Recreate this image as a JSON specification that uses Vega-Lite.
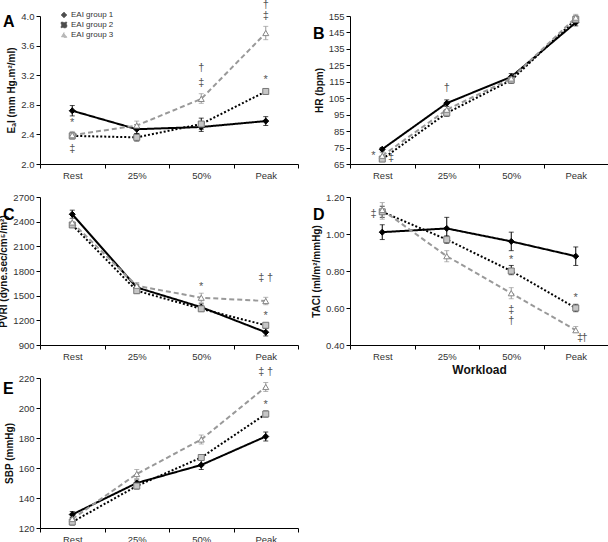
{
  "$schema": "https://vega.github.io/schema/vega-lite/v6.json",
  "padding": {"left": -2, "top": -2, "right": 1, "bottom": 0},
  "columns": 2,
  "bounds": "flush",
  "spacing": {"row": 33, "column": 52},
  "config": {
    "font": "Liberation Sans",
    "view": {"stroke": null},
    "axis": {
      "grid": false,
      "domainColor": "#000000",
      "domainWidth": 1,
      "tickColor": "#000000",
      "tickSize": 4,
      "labelOverlap": false,
      "labelFont": "Liberation Sans",
      "labelFontSize": 9.5,
      "labelColor": "#333333",
      "labelPadding": 2,
      "titleFont": "Liberation Sans",
      "titleFontSize": 10,
      "titleFontWeight": "bold",
      "titleColor": "#111111"
    }
  },
  "datasets": {
    "series": [
      {"panel": "A", "workload": "Rest", "group": "EAI group 1", "value": 2.72, "lo": 2.65, "hi": 2.79},
      {"panel": "A", "workload": "25%", "group": "EAI group 1", "value": 2.47, "lo": 2.41, "hi": 2.53},
      {"panel": "A", "workload": "50%", "group": "EAI group 1", "value": 2.50, "lo": 2.44, "hi": 2.56},
      {"panel": "A", "workload": "Peak", "group": "EAI group 1", "value": 2.58, "lo": 2.52, "hi": 2.64},
      {"panel": "A", "workload": "Rest", "group": "EAI group 2", "value": 2.38, "lo": 2.34, "hi": 2.42},
      {"panel": "A", "workload": "25%", "group": "EAI group 2", "value": 2.36, "lo": 2.31, "hi": 2.41},
      {"panel": "A", "workload": "50%", "group": "EAI group 2", "value": 2.54, "lo": 2.47, "hi": 2.62},
      {"panel": "A", "workload": "Peak", "group": "EAI group 2", "value": 2.98, "lo": 2.96, "hi": 3.00},
      {"panel": "A", "workload": "Rest", "group": "EAI group 3", "value": 2.39, "lo": 2.34, "hi": 2.44},
      {"panel": "A", "workload": "25%", "group": "EAI group 3", "value": 2.52, "lo": 2.46, "hi": 2.58},
      {"panel": "A", "workload": "50%", "group": "EAI group 3", "value": 2.88, "lo": 2.82, "hi": 2.95},
      {"panel": "A", "workload": "Peak", "group": "EAI group 3", "value": 3.77, "lo": 3.68, "hi": 3.86},
      {"panel": "B", "workload": "Rest", "group": "EAI group 1", "value": 74, "lo": 73, "hi": 75},
      {"panel": "B", "workload": "25%", "group": "EAI group 1", "value": 102, "lo": 100, "hi": 104},
      {"panel": "B", "workload": "50%", "group": "EAI group 1", "value": 118, "lo": 116, "hi": 120},
      {"panel": "B", "workload": "Peak", "group": "EAI group 1", "value": 151, "lo": 149, "hi": 153},
      {"panel": "B", "workload": "Rest", "group": "EAI group 2", "value": 68, "lo": 67, "hi": 69},
      {"panel": "B", "workload": "25%", "group": "EAI group 2", "value": 96, "lo": 94, "hi": 98},
      {"panel": "B", "workload": "50%", "group": "EAI group 2", "value": 116, "lo": 114, "hi": 118},
      {"panel": "B", "workload": "Peak", "group": "EAI group 2", "value": 153, "lo": 151, "hi": 155},
      {"panel": "B", "workload": "Rest", "group": "EAI group 3", "value": 70, "lo": 68, "hi": 72},
      {"panel": "B", "workload": "25%", "group": "EAI group 3", "value": 98, "lo": 95, "hi": 101},
      {"panel": "B", "workload": "50%", "group": "EAI group 3", "value": 117, "lo": 115, "hi": 119},
      {"panel": "B", "workload": "Peak", "group": "EAI group 3", "value": 154, "lo": 152, "hi": 156},
      {"panel": "C", "workload": "Rest", "group": "EAI group 1", "value": 2490, "lo": 2440, "hi": 2540},
      {"panel": "C", "workload": "25%", "group": "EAI group 1", "value": 1600, "lo": 1560, "hi": 1640},
      {"panel": "C", "workload": "50%", "group": "EAI group 1", "value": 1360, "lo": 1320, "hi": 1400},
      {"panel": "C", "workload": "Peak", "group": "EAI group 1", "value": 1055, "lo": 1010, "hi": 1100},
      {"panel": "C", "workload": "Rest", "group": "EAI group 2", "value": 2360, "lo": 2330, "hi": 2390},
      {"panel": "C", "workload": "25%", "group": "EAI group 2", "value": 1560, "lo": 1530, "hi": 1590},
      {"panel": "C", "workload": "50%", "group": "EAI group 2", "value": 1340, "lo": 1310, "hi": 1370},
      {"panel": "C", "workload": "Peak", "group": "EAI group 2", "value": 1140, "lo": 1120, "hi": 1160},
      {"panel": "C", "workload": "Rest", "group": "EAI group 3", "value": 2390, "lo": 2340, "hi": 2440},
      {"panel": "C", "workload": "25%", "group": "EAI group 3", "value": 1620, "lo": 1580, "hi": 1660},
      {"panel": "C", "workload": "50%", "group": "EAI group 3", "value": 1475, "lo": 1420, "hi": 1530},
      {"panel": "C", "workload": "Peak", "group": "EAI group 3", "value": 1435, "lo": 1390, "hi": 1480},
      {"panel": "D", "workload": "Rest", "group": "EAI group 1", "value": 1.01, "lo": 0.97, "hi": 1.05},
      {"panel": "D", "workload": "25%", "group": "EAI group 1", "value": 1.03, "lo": 0.97, "hi": 1.09},
      {"panel": "D", "workload": "50%", "group": "EAI group 1", "value": 0.96, "lo": 0.91, "hi": 1.01},
      {"panel": "D", "workload": "Peak", "group": "EAI group 1", "value": 0.88, "lo": 0.83, "hi": 0.93},
      {"panel": "D", "workload": "Rest", "group": "EAI group 2", "value": 1.12, "lo": 1.09, "hi": 1.15},
      {"panel": "D", "workload": "25%", "group": "EAI group 2", "value": 0.97, "lo": 0.95, "hi": 0.99},
      {"panel": "D", "workload": "50%", "group": "EAI group 2", "value": 0.80, "lo": 0.78, "hi": 0.83},
      {"panel": "D", "workload": "Peak", "group": "EAI group 2", "value": 0.60, "lo": 0.58, "hi": 0.62},
      {"panel": "D", "workload": "Rest", "group": "EAI group 3", "value": 1.13, "lo": 1.08, "hi": 1.17},
      {"panel": "D", "workload": "25%", "group": "EAI group 3", "value": 0.88, "lo": 0.85, "hi": 0.91},
      {"panel": "D", "workload": "50%", "group": "EAI group 3", "value": 0.68, "lo": 0.65, "hi": 0.71},
      {"panel": "D", "workload": "Peak", "group": "EAI group 3", "value": 0.48, "lo": 0.47, "hi": 0.50},
      {"panel": "E", "workload": "Rest", "group": "EAI group 1", "value": 129, "lo": 127, "hi": 131},
      {"panel": "E", "workload": "25%", "group": "EAI group 1", "value": 150, "lo": 148, "hi": 152},
      {"panel": "E", "workload": "50%", "group": "EAI group 1", "value": 162, "lo": 159, "hi": 165},
      {"panel": "E", "workload": "Peak", "group": "EAI group 1", "value": 181, "lo": 178, "hi": 184},
      {"panel": "E", "workload": "Rest", "group": "EAI group 2", "value": 124, "lo": 122, "hi": 126},
      {"panel": "E", "workload": "25%", "group": "EAI group 2", "value": 148, "lo": 146, "hi": 150},
      {"panel": "E", "workload": "50%", "group": "EAI group 2", "value": 167, "lo": 165, "hi": 169},
      {"panel": "E", "workload": "Peak", "group": "EAI group 2", "value": 196, "lo": 194, "hi": 198},
      {"panel": "E", "workload": "Rest", "group": "EAI group 3", "value": 126, "lo": 124, "hi": 128},
      {"panel": "E", "workload": "25%", "group": "EAI group 3", "value": 156, "lo": 153, "hi": 159},
      {"panel": "E", "workload": "50%", "group": "EAI group 3", "value": 179, "lo": 176, "hi": 182},
      {"panel": "E", "workload": "Peak", "group": "EAI group 3", "value": 214, "lo": 211, "hi": 217}
    ],
    "notes": [
      {"panel": "A", "workload": "Rest", "value": 2.56, "label": "*", "side": "center"},
      {"panel": "A", "workload": "Rest", "value": 2.2, "label": "‡", "side": "center"},
      {"panel": "A", "workload": "50%", "value": 3.30, "label": "†", "side": "center"},
      {"panel": "A", "workload": "50%", "value": 3.10, "label": "‡", "side": "center"},
      {"panel": "A", "workload": "Peak", "value": 3.14, "label": "*", "side": "center"},
      {"panel": "A", "workload": "Peak", "value": 4.0, "label": "‡", "side": "center"},
      {"panel": "A", "workload": "Peak", "value": 4.15, "label": "†", "side": "center"},
      {"panel": "B", "workload": "Rest", "value": 70, "label": "*", "side": "far-left"},
      {"panel": "B", "workload": "Rest", "value": 68.5, "label": "‡", "side": "far-right"},
      {"panel": "B", "workload": "25%", "value": 111, "label": "†", "side": "center"},
      {"panel": "C", "workload": "50%", "value": 1610, "label": "*", "side": "center"},
      {"panel": "C", "workload": "Peak", "value": 1720, "label": "‡", "side": "left"},
      {"panel": "C", "workload": "Peak", "value": 1720, "label": "†", "side": "right"},
      {"panel": "C", "workload": "Peak", "value": 1250, "label": "*", "side": "center"},
      {"panel": "D", "workload": "Rest", "value": 1.11, "label": "‡", "side": "far-left"},
      {"panel": "D", "workload": "50%", "value": 0.86, "label": "*", "side": "center"},
      {"panel": "D", "workload": "50%", "value": 0.59, "label": "‡", "side": "center"},
      {"panel": "D", "workload": "50%", "value": 0.53, "label": "†", "side": "center"},
      {"panel": "D", "workload": "Peak", "value": 0.655, "label": "*", "side": "center"},
      {"panel": "D", "workload": "Peak", "value": 0.44, "label": "‡", "side": "right"},
      {"panel": "D", "workload": "Peak", "value": 0.44, "label": "†", "side": "far-right"},
      {"panel": "E", "workload": "Peak", "value": 224, "label": "‡", "side": "left"},
      {"panel": "E", "workload": "Peak", "value": 224, "label": "†", "side": "right"},
      {"panel": "E", "workload": "Peak", "value": 202, "label": "*", "side": "center"}
    ]
  },
  "concat": [
    {
      "width": 258,
      "height": 148,
      "title": {"text": "A", "anchor": "start", "frame": "group", "fontSize": 16, "fontWeight": "bold", "font": "Liberation Sans", "color": "#000000", "baseline": "alphabetic", "offset": -44, "dx": -37},
      "data": {"name": "series"},
      "transform": [{"filter": "datum.panel === 'A'"}],
      "encoding": {
        "x": {"field": "workload", "type": "nominal", "sort": ["Rest", "25%", "50%", "Peak"], "scale": {"type": "band", "domain": ["Rest", "25%", "50%", "Peak"], "paddingInner": 0, "paddingOuter": 0}, "axis": {"title": null, "labelAngle": 0, "tickBand": "extent"}}
      },
      "layer": [
        {
          "mark": {"type": "errorbar", "ticks": {"size": 5}, "thickness": 1},
          "encoding": {
            "y": {"field": "lo", "type": "quantitative", "scale": {"domain": [2.0, 4.0], "zero": false, "nice": false}, "axis": {"title": "EₐI (mm Hg.m²/ml)", "values": [2.0, 2.4, 2.8, 3.2, 3.6, 4.0], "tickCount": 20, "format": ".1f"}},
            "y2": {"field": "hi"},
            "color": {"field": "group", "type": "nominal", "scale": {"domain": ["EAI group 1", "EAI group 2", "EAI group 3"], "range": ["#000000", "#000000", "#999999"]}, "legend": {"title": null, "orient": "none", "legendX": 20, "legendY": -6, "symbolSize": 30, "symbolStrokeWidth": 1, "labelFontSize": 8, "labelFont": "Liberation Sans", "labelColor": "#333333", "labelOffset": 3, "clipHeight": 10, "rowPadding": 0, "padding": 0}}
          }
        },
        {
          "mark": {"type": "line", "strokeWidth": 2},
          "encoding": {
            "y": {"field": "value", "type": "quantitative", "scale": {"domain": [2.0, 4.0], "zero": false, "nice": false}},
            "color": {"field": "group", "type": "nominal", "scale": {"domain": ["EAI group 1", "EAI group 2", "EAI group 3"], "range": ["#000000", "#000000", "#999999"]}, "legend": {"title": null, "orient": "none", "legendX": 20, "legendY": -6, "symbolSize": 30, "symbolStrokeWidth": 1, "labelFontSize": 8, "labelFont": "Liberation Sans", "labelColor": "#333333", "labelOffset": 3, "clipHeight": 10, "rowPadding": 0, "padding": 0}},
            "strokeDash": {"field": "group", "type": "nominal", "scale": {"domain": ["EAI group 1", "EAI group 2", "EAI group 3"], "range": [[1, 0], [2, 2], [5, 3]]}, "legend": {"title": null, "orient": "none", "legendX": 20, "legendY": -6, "symbolSize": 30, "symbolStrokeWidth": 1, "labelFontSize": 8, "labelFont": "Liberation Sans", "labelColor": "#333333", "labelOffset": 3, "clipHeight": 10, "rowPadding": 0, "padding": 0}}
          }
        },
        {
          "mark": {"type": "point", "filled": true, "size": 36, "strokeWidth": 1, "opacity": 1},
          "encoding": {
            "y": {"field": "value", "type": "quantitative", "scale": {"domain": [2.0, 4.0], "zero": false, "nice": false}},
            "shape": {"field": "group", "type": "nominal", "scale": {"domain": ["EAI group 1", "EAI group 2", "EAI group 3"], "range": ["diamond", "square", "triangle-up"]}, "legend": {"title": null, "orient": "none", "legendX": 20, "legendY": -6, "symbolSize": 30, "symbolStrokeWidth": 1, "labelFontSize": 8, "labelFont": "Liberation Sans", "labelColor": "#333333", "labelOffset": 3, "clipHeight": 10, "rowPadding": 0, "padding": 0}},
            "fill": {"field": "group", "type": "nominal", "scale": {"domain": ["EAI group 1", "EAI group 2", "EAI group 3"], "range": ["#000000", "#c6c6c6", "#ffffff"]}, "legend": {"title": null, "orient": "none", "legendX": 20, "legendY": -6, "symbolSize": 30, "symbolStrokeWidth": 1, "labelFontSize": 8, "labelFont": "Liberation Sans", "labelColor": "#333333", "labelOffset": 3, "clipHeight": 10, "rowPadding": 0, "padding": 0}},
            "stroke": {"field": "group", "type": "nominal", "scale": {"domain": ["EAI group 1", "EAI group 2", "EAI group 3"], "range": ["#000000", "#777777", "#888888"]}, "legend": {"title": null, "orient": "none", "legendX": 20, "legendY": -6, "symbolSize": 30, "symbolStrokeWidth": 1, "labelFontSize": 8, "labelFont": "Liberation Sans", "labelColor": "#333333", "labelOffset": 3, "clipHeight": 10, "rowPadding": 0, "padding": 0}}
          }
        },
        {
          "data": {"name": "notes"},
          "transform": [{"filter": "datum.panel === 'A'"}],
          "mark": {"type": "text", "fontSize": 11, "color": "#555555", "baseline": "middle", "font": "Liberation Sans"},
          "encoding": {
            "y": {"field": "value", "type": "quantitative", "scale": {"domain": [2.0, 4.0], "zero": false, "nice": false}},
            "text": {"field": "label"},
            "xOffset": {"field": "side", "type": "nominal", "scale": {"type": "point", "domain": ["far-left", "left", "center", "right", "far-right"], "range": [21.25, 43.25]}}
          }
        }
      ]
    },
    {
      "width": 258,
      "height": 148,
      "title": {"text": "B", "anchor": "start", "frame": "group", "fontSize": 16, "fontWeight": "bold", "font": "Liberation Sans", "color": "#000000", "baseline": "alphabetic", "offset": -44, "dx": -37},
      "data": {"name": "series"},
      "transform": [{"filter": "datum.panel === 'B'"}],
      "encoding": {
        "x": {"field": "workload", "type": "nominal", "sort": ["Rest", "25%", "50%", "Peak"], "scale": {"type": "band", "domain": ["Rest", "25%", "50%", "Peak"], "paddingInner": 0, "paddingOuter": 0}, "axis": {"title": null, "labelAngle": 0, "tickBand": "extent"}}
      },
      "layer": [
        {
          "mark": {"type": "errorbar", "ticks": {"size": 5}, "thickness": 1},
          "encoding": {
            "y": {"field": "lo", "type": "quantitative", "scale": {"domain": [65, 155], "zero": false, "nice": false}, "axis": {"title": "HR (bpm)", "values": [65, 75, 85, 95, 105, 115, 125, 135, 145, 155], "tickCount": 20}},
            "y2": {"field": "hi"},
            "color": {"field": "group", "type": "nominal", "scale": {"domain": ["EAI group 1", "EAI group 2", "EAI group 3"], "range": ["#000000", "#000000", "#999999"]}, "legend": null}
          }
        },
        {
          "mark": {"type": "line", "strokeWidth": 2},
          "encoding": {
            "y": {"field": "value", "type": "quantitative", "scale": {"domain": [65, 155], "zero": false, "nice": false}},
            "color": {"field": "group", "type": "nominal", "scale": {"domain": ["EAI group 1", "EAI group 2", "EAI group 3"], "range": ["#000000", "#000000", "#999999"]}, "legend": null},
            "strokeDash": {"field": "group", "type": "nominal", "scale": {"domain": ["EAI group 1", "EAI group 2", "EAI group 3"], "range": [[1, 0], [2, 2], [5, 3]]}, "legend": null}
          }
        },
        {
          "mark": {"type": "point", "filled": true, "size": 36, "strokeWidth": 1, "opacity": 1},
          "encoding": {
            "y": {"field": "value", "type": "quantitative", "scale": {"domain": [65, 155], "zero": false, "nice": false}},
            "shape": {"field": "group", "type": "nominal", "scale": {"domain": ["EAI group 1", "EAI group 2", "EAI group 3"], "range": ["diamond", "square", "triangle-up"]}, "legend": null},
            "fill": {"field": "group", "type": "nominal", "scale": {"domain": ["EAI group 1", "EAI group 2", "EAI group 3"], "range": ["#000000", "#c6c6c6", "#ffffff"]}, "legend": null},
            "stroke": {"field": "group", "type": "nominal", "scale": {"domain": ["EAI group 1", "EAI group 2", "EAI group 3"], "range": ["#000000", "#777777", "#888888"]}, "legend": null}
          }
        },
        {
          "data": {"name": "notes"},
          "transform": [{"filter": "datum.panel === 'B'"}],
          "mark": {"type": "text", "fontSize": 11, "color": "#555555", "baseline": "middle", "font": "Liberation Sans"},
          "encoding": {
            "y": {"field": "value", "type": "quantitative", "scale": {"domain": [65, 155], "zero": false, "nice": false}},
            "text": {"field": "label"},
            "xOffset": {"field": "side", "type": "nominal", "scale": {"type": "point", "domain": ["far-left", "left", "center", "right", "far-right"], "range": [21.25, 43.25]}}
          }
        }
      ]
    },
    {
      "width": 258,
      "height": 148,
      "title": {"text": "C", "anchor": "start", "frame": "group", "fontSize": 16, "fontWeight": "bold", "font": "Liberation Sans", "color": "#000000", "baseline": "alphabetic", "offset": -44, "dx": -37},
      "data": {"name": "series"},
      "transform": [{"filter": "datum.panel === 'C'"}],
      "encoding": {
        "x": {"field": "workload", "type": "nominal", "sort": ["Rest", "25%", "50%", "Peak"], "scale": {"type": "band", "domain": ["Rest", "25%", "50%", "Peak"], "paddingInner": 0, "paddingOuter": 0}, "axis": {"title": null, "labelAngle": 0, "tickBand": "extent"}}
      },
      "layer": [
        {
          "mark": {"type": "errorbar", "ticks": {"size": 5}, "thickness": 1},
          "encoding": {
            "y": {"field": "lo", "type": "quantitative", "scale": {"domain": [900, 2700], "zero": false, "nice": false}, "axis": {"title": "PVRI (dyne.sec/cm⁵/m²)", "values": [900, 1200, 1500, 1800, 2100, 2400, 2700], "tickCount": 20, "format": "d"}},
            "y2": {"field": "hi"},
            "color": {"field": "group", "type": "nominal", "scale": {"domain": ["EAI group 1", "EAI group 2", "EAI group 3"], "range": ["#000000", "#000000", "#999999"]}, "legend": null}
          }
        },
        {
          "mark": {"type": "line", "strokeWidth": 2},
          "encoding": {
            "y": {"field": "value", "type": "quantitative", "scale": {"domain": [900, 2700], "zero": false, "nice": false}},
            "color": {"field": "group", "type": "nominal", "scale": {"domain": ["EAI group 1", "EAI group 2", "EAI group 3"], "range": ["#000000", "#000000", "#999999"]}, "legend": null},
            "strokeDash": {"field": "group", "type": "nominal", "scale": {"domain": ["EAI group 1", "EAI group 2", "EAI group 3"], "range": [[1, 0], [2, 2], [5, 3]]}, "legend": null}
          }
        },
        {
          "mark": {"type": "point", "filled": true, "size": 36, "strokeWidth": 1, "opacity": 1},
          "encoding": {
            "y": {"field": "value", "type": "quantitative", "scale": {"domain": [900, 2700], "zero": false, "nice": false}},
            "shape": {"field": "group", "type": "nominal", "scale": {"domain": ["EAI group 1", "EAI group 2", "EAI group 3"], "range": ["diamond", "square", "triangle-up"]}, "legend": null},
            "fill": {"field": "group", "type": "nominal", "scale": {"domain": ["EAI group 1", "EAI group 2", "EAI group 3"], "range": ["#000000", "#c6c6c6", "#ffffff"]}, "legend": null},
            "stroke": {"field": "group", "type": "nominal", "scale": {"domain": ["EAI group 1", "EAI group 2", "EAI group 3"], "range": ["#000000", "#777777", "#888888"]}, "legend": null}
          }
        },
        {
          "data": {"name": "notes"},
          "transform": [{"filter": "datum.panel === 'C'"}],
          "mark": {"type": "text", "fontSize": 11, "color": "#555555", "baseline": "middle", "font": "Liberation Sans"},
          "encoding": {
            "y": {"field": "value", "type": "quantitative", "scale": {"domain": [900, 2700], "zero": false, "nice": false}},
            "text": {"field": "label"},
            "xOffset": {"field": "side", "type": "nominal", "scale": {"type": "point", "domain": ["far-left", "left", "center", "right", "far-right"], "range": [21.25, 43.25]}}
          }
        }
      ]
    },
    {
      "width": 258,
      "height": 148,
      "title": {"text": "D", "anchor": "start", "frame": "group", "fontSize": 16, "fontWeight": "bold", "font": "Liberation Sans", "color": "#000000", "baseline": "alphabetic", "offset": -44, "dx": -37},
      "data": {"name": "series"},
      "transform": [{"filter": "datum.panel === 'D'"}],
      "encoding": {
        "x": {"field": "workload", "type": "nominal", "sort": ["Rest", "25%", "50%", "Peak"], "scale": {"type": "band", "domain": ["Rest", "25%", "50%", "Peak"], "paddingInner": 0, "paddingOuter": 0}, "axis": {"title": "Workload", "titleFontSize": 12, "titlePadding": 4, "labelAngle": 0, "tickBand": "extent"}}
      },
      "layer": [
        {
          "mark": {"type": "errorbar", "ticks": {"size": 5}, "thickness": 1},
          "encoding": {
            "y": {"field": "lo", "type": "quantitative", "scale": {"domain": [0.4, 1.2], "zero": false, "nice": false}, "axis": {"title": "TACI (ml/m²/mmHg)", "values": [0.4, 0.6, 0.8, 1.0, 1.2], "tickCount": 20, "format": ".2f"}},
            "y2": {"field": "hi"},
            "color": {"field": "group", "type": "nominal", "scale": {"domain": ["EAI group 1", "EAI group 2", "EAI group 3"], "range": ["#000000", "#000000", "#999999"]}, "legend": null}
          }
        },
        {
          "mark": {"type": "line", "strokeWidth": 2},
          "encoding": {
            "y": {"field": "value", "type": "quantitative", "scale": {"domain": [0.4, 1.2], "zero": false, "nice": false}},
            "color": {"field": "group", "type": "nominal", "scale": {"domain": ["EAI group 1", "EAI group 2", "EAI group 3"], "range": ["#000000", "#000000", "#999999"]}, "legend": null},
            "strokeDash": {"field": "group", "type": "nominal", "scale": {"domain": ["EAI group 1", "EAI group 2", "EAI group 3"], "range": [[1, 0], [2, 2], [5, 3]]}, "legend": null}
          }
        },
        {
          "mark": {"type": "point", "filled": true, "size": 36, "strokeWidth": 1, "opacity": 1},
          "encoding": {
            "y": {"field": "value", "type": "quantitative", "scale": {"domain": [0.4, 1.2], "zero": false, "nice": false}},
            "shape": {"field": "group", "type": "nominal", "scale": {"domain": ["EAI group 1", "EAI group 2", "EAI group 3"], "range": ["diamond", "square", "triangle-up"]}, "legend": null},
            "fill": {"field": "group", "type": "nominal", "scale": {"domain": ["EAI group 1", "EAI group 2", "EAI group 3"], "range": ["#000000", "#c6c6c6", "#ffffff"]}, "legend": null},
            "stroke": {"field": "group", "type": "nominal", "scale": {"domain": ["EAI group 1", "EAI group 2", "EAI group 3"], "range": ["#000000", "#777777", "#888888"]}, "legend": null}
          }
        },
        {
          "data": {"name": "notes"},
          "transform": [{"filter": "datum.panel === 'D'"}],
          "mark": {"type": "text", "fontSize": 11, "color": "#555555", "baseline": "middle", "font": "Liberation Sans"},
          "encoding": {
            "y": {"field": "value", "type": "quantitative", "scale": {"domain": [0.4, 1.2], "zero": false, "nice": false}},
            "text": {"field": "label"},
            "xOffset": {"field": "side", "type": "nominal", "scale": {"type": "point", "domain": ["far-left", "left", "center", "right", "far-right"], "range": [21.25, 43.25]}}
          }
        }
      ]
    },
    {
      "width": 258,
      "height": 150,
      "title": {"text": "E", "anchor": "start", "frame": "group", "fontSize": 16, "fontWeight": "bold", "font": "Liberation Sans", "color": "#000000", "baseline": "alphabetic", "offset": -44, "dx": -37},
      "data": {"name": "series"},
      "transform": [{"filter": "datum.panel === 'E'"}],
      "encoding": {
        "x": {"field": "workload", "type": "nominal", "sort": ["Rest", "25%", "50%", "Peak"], "scale": {"type": "band", "domain": ["Rest", "25%", "50%", "Peak"], "paddingInner": 0, "paddingOuter": 0}, "axis": {"title": null, "labelAngle": 0, "tickBand": "extent"}}
      },
      "layer": [
        {
          "mark": {"type": "errorbar", "ticks": {"size": 5}, "thickness": 1},
          "encoding": {
            "y": {"field": "lo", "type": "quantitative", "scale": {"domain": [120, 220], "zero": false, "nice": false}, "axis": {"title": "SBP (mmHg)", "values": [120, 140, 160, 180, 200, 220], "tickCount": 20}},
            "y2": {"field": "hi"},
            "color": {"field": "group", "type": "nominal", "scale": {"domain": ["EAI group 1", "EAI group 2", "EAI group 3"], "range": ["#000000", "#000000", "#999999"]}, "legend": null}
          }
        },
        {
          "mark": {"type": "line", "strokeWidth": 2},
          "encoding": {
            "y": {"field": "value", "type": "quantitative", "scale": {"domain": [120, 220], "zero": false, "nice": false}},
            "color": {"field": "group", "type": "nominal", "scale": {"domain": ["EAI group 1", "EAI group 2", "EAI group 3"], "range": ["#000000", "#000000", "#999999"]}, "legend": null},
            "strokeDash": {"field": "group", "type": "nominal", "scale": {"domain": ["EAI group 1", "EAI group 2", "EAI group 3"], "range": [[1, 0], [2, 2], [5, 3]]}, "legend": null}
          }
        },
        {
          "mark": {"type": "point", "filled": true, "size": 36, "strokeWidth": 1, "opacity": 1},
          "encoding": {
            "y": {"field": "value", "type": "quantitative", "scale": {"domain": [120, 220], "zero": false, "nice": false}},
            "shape": {"field": "group", "type": "nominal", "scale": {"domain": ["EAI group 1", "EAI group 2", "EAI group 3"], "range": ["diamond", "square", "triangle-up"]}, "legend": null},
            "fill": {"field": "group", "type": "nominal", "scale": {"domain": ["EAI group 1", "EAI group 2", "EAI group 3"], "range": ["#000000", "#c6c6c6", "#ffffff"]}, "legend": null},
            "stroke": {"field": "group", "type": "nominal", "scale": {"domain": ["EAI group 1", "EAI group 2", "EAI group 3"], "range": ["#000000", "#777777", "#888888"]}, "legend": null}
          }
        },
        {
          "data": {"name": "notes"},
          "transform": [{"filter": "datum.panel === 'E'"}],
          "mark": {"type": "text", "fontSize": 11, "color": "#555555", "baseline": "middle", "font": "Liberation Sans"},
          "encoding": {
            "y": {"field": "value", "type": "quantitative", "scale": {"domain": [120, 220], "zero": false, "nice": false}},
            "text": {"field": "label"},
            "xOffset": {"field": "side", "type": "nominal", "scale": {"type": "point", "domain": ["far-left", "left", "center", "right", "far-right"], "range": [21.25, 43.25]}}
          }
        }
      ]
    }
  ]
}
